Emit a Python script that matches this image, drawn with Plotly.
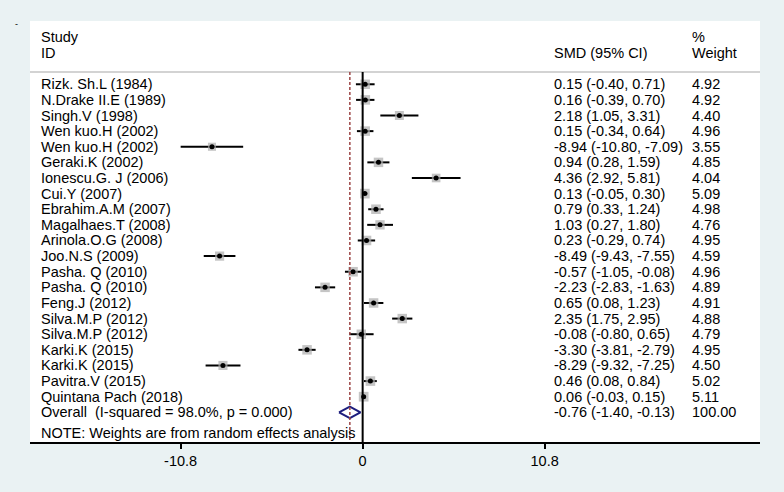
import plotly.graph_objects as go

# данные forest plot
studies = [
    "Rizk. Sh.L (1984)", "N.Drake II.E (1989)", "Singh.V (1998)", "Wen kuo.H (2002)",
    "Wen kuo.H (2002)", "Geraki.K (2002)", "Ionescu.G. J (2006)", "Cui.Y (2007)",
    "Ebrahim.A.M (2007)", "Magalhaes.T (2008)", "Arinola.O.G (2008)", "Joo.N.S (2009)",
    "Pasha. Q (2010)", "Pasha. Q (2010)", "Feng.J (2012)", "Silva.M.P (2012)",
    "Silva.M.P (2012)", "Karki.K (2015)", "Karki.K (2015)", "Pavitra.V (2015)",
    "Quintana Pach (2018)",
]
smd = [0.15, 0.16, 2.18, 0.15, -8.94, 0.94, 4.36, 0.13, 0.79, 1.03, 0.23,
       -8.49, -0.57, -2.23, 0.65, 2.35, -0.08, -3.30, -8.29, 0.46, 0.06]
ci_low = [-0.40, -0.39, 1.05, -0.34, -10.80, 0.28, 2.92, -0.05, 0.33, 0.27, -0.29,
          -9.43, -1.05, -2.83, 0.08, 1.75, -0.80, -3.81, -9.32, 0.08, -0.03]
ci_high = [0.71, 0.70, 3.31, 0.64, -7.09, 1.59, 5.81, 0.30, 1.24, 1.80, 0.74,
           -7.55, -0.08, -1.63, 1.23, 2.95, 0.65, -2.79, -7.25, 0.84, 0.15]
weights = [4.92, 4.92, 4.40, 4.96, 3.55, 4.85, 4.04, 5.09, 4.98, 4.76, 4.95,
           4.59, 4.96, 4.89, 4.91, 4.88, 4.79, 4.95, 4.50, 5.02, 5.11]

overall_label = "Overall  (I-squared = 98.0%, p = 0.000)"
overall_smd = -0.76
overall_low = -1.40
overall_high = -0.13
overall_weight = 100.00

tick_vals = [-10.8, 0, 10.8]
tick_text = ["-10.8", "0", "10.8"]

rows = list(range(len(studies)))
overall_row = len(studies)

font_name = "Liberation Sans, Arial, sans-serif"
fs = 14.5

fig = go.Figure()

# квадраты весов + доверительные интервалы
fig.add_trace(go.Scatter(
    x=smd, y=rows, mode="markers",
    marker=dict(symbol="square", color="#ADADAD",
                size=[9.5 * (w / 4.9) ** 0.5 for w in weights], line=dict(width=0)),
    error_x=dict(type="data", symmetric=False,
                 array=[h - e for h, e in zip(ci_high, smd)],
                 arrayminus=[e - l for e, l in zip(smd, ci_low)],
                 width=0, thickness=2, color="black"),
    hoverinfo="skip", showlegend=False,
))
# точки оценок
fig.add_trace(go.Scatter(
    x=smd, y=rows, mode="markers",
    marker=dict(symbol="circle", color="black", size=5),
    hoverinfo="skip", showlegend=False,
))
# ромб общего эффекта
dh = 0.37
fig.add_trace(go.Scatter(
    x=[overall_low, overall_smd, overall_high, overall_smd, overall_low],
    y=[overall_row, overall_row - dh, overall_row, overall_row + dh, overall_row],
    mode="lines", line=dict(color="#1E1E7E", width=2),
    hoverinfo="skip", showlegend=False,
))

y_top = -4.05
y_bottom = 22.9
sep_y = -0.79

# линии
fig.add_shape(type="line", xref="paper", yref="y", x0=0, x1=1, y0=sep_y, y1=sep_y,
              line=dict(color="#C4C4C4", width=1.5))
fig.add_shape(type="line", xref="x", yref="y", x0=0, x1=0, y0=sep_y, y1=y_bottom,
              line=dict(color="black", width=2))
fig.add_shape(type="line", xref="x", yref="y", x0=overall_smd, x1=overall_smd,
              y0=sep_y, y1=y_bottom,
              line=dict(color="#9C4545", width=1.5, dash="3px,2px"))

x_study = -19.15
x_smd = 11.3
x_weight = 19.5

annotations = []


def add_text(x, y, text, xref="x", size=fs):
    annotations.append(dict(x=x, y=y, xref=xref, yref="y", text=text, showarrow=False,
                            xanchor="left", yanchor="middle", borderpad=0,
                            font=dict(family=font_name, size=size, color="black")))


# заголовки
add_text(x_study, -3.03, "Study")
add_text(x_study, -2.0, "ID")
add_text(x_smd, -2.0, "SMD (95% CI)")
add_text(x_weight, -3.03, "%")
add_text(x_weight, -2.0, "Weight")

for i, name in enumerate(studies):
    add_text(x_study, i, name)
    add_text(x_smd, i, f"{smd[i]:.2f} ({ci_low[i]:.2f}, {ci_high[i]:.2f})")
    add_text(x_weight, i, f"{weights[i]:.2f}")

add_text(x_study, overall_row, overall_label)
add_text(x_smd, overall_row, f"{overall_smd:.2f} ({overall_low:.2f}, {overall_high:.2f})")
add_text(x_weight, overall_row, f"{overall_weight:.2f}")
add_text(x_study, 22.32, "NOTE: Weights are from random effects analysis")

# метка в левом верхнем углу
annotations.append(dict(x=(16 - 30) / 730, y=(442 - 24) / 421, xref="paper", yref="paper",
                        text="-", showarrow=False, xanchor="center", yanchor="middle",
                        font=dict(family=font_name, size=9, color="black")))

fig.update_layout(
    width=784, height=492,
    margin=dict(l=30, r=24, t=21, b=50),
    paper_bgcolor="#EAF2F3",
    plot_bgcolor="white",
    annotations=annotations,
    xaxis=dict(range=[-19.74, 23.58], showgrid=False, zeroline=False,
               showline=True, linecolor="black", linewidth=1.5,
               ticks="outside", ticklen=5, tickwidth=1.5, tickcolor="black",
               tickvals=tick_vals, ticktext=tick_text,
               tickfont=dict(family=font_name, size=fs, color="black")),
    yaxis=dict(range=[y_bottom, y_top], showgrid=False, zeroline=False,
               showline=False, showticklabels=False, ticks=""),
)

# убираем отступ body, чтобы фигура занимала всё окно
fig.write_html("out.html", config={"displayModeBar": False},
               post_script="document.body.style.margin='0';")
